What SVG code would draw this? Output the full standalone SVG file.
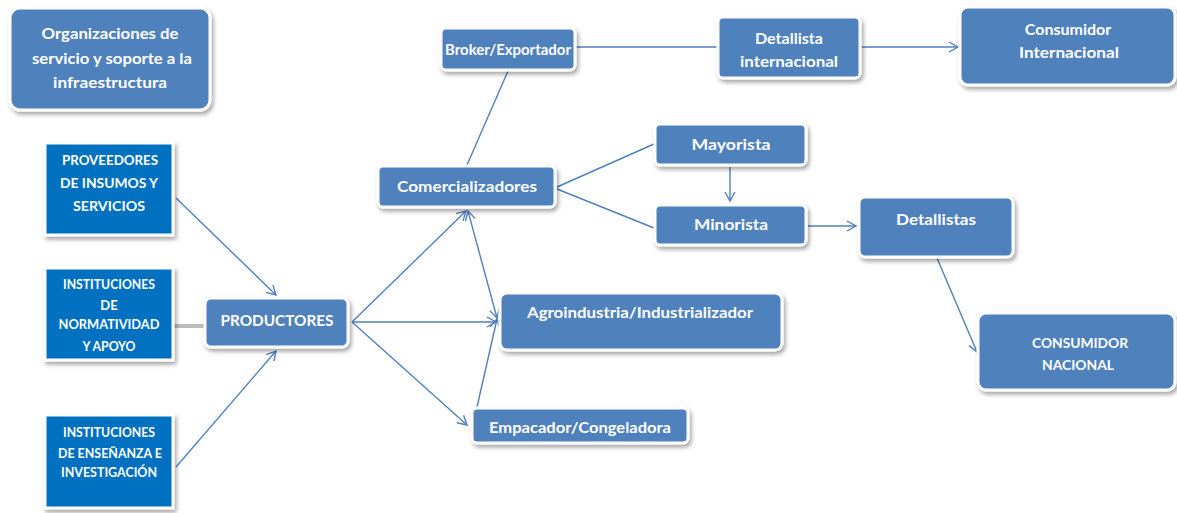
<svg xmlns="http://www.w3.org/2000/svg" width="1177" height="513" viewBox="0 0 1177 513">
<style>
  .box { fill: #4F81BD; stroke: #FFFFFF; stroke-width: 3; filter: url(#shadow); }
  .sq { fill: #0070C0; stroke: #FFFFFF; stroke-width: 3; filter: url(#shadow); }
  .t { font-family: Lato, "Liberation Sans", sans-serif; font-weight: bold; fill: #FFFFFF; text-anchor: middle; font-size: 16px; }
  .s { font-size: 13px; }
  .c { stroke: #4F81BD; stroke-width: 1.4; fill: none; }
  .a { marker-end: url(#arr); }
  .b { marker-start: url(#arrs); }
</style>
<defs>
  <filter id="shadow" x="-10%" y="-10%" width="125%" height="135%">
    <feDropShadow dx="2" dy="3" stdDeviation="2" flood-color="#000000" flood-opacity="0.35"/>
  </filter>
  <marker id="arr" markerUnits="userSpaceOnUse" markerWidth="14" markerHeight="14" refX="10" refY="6" orient="auto">
    <path d="M1,1 L10,6 L1,11" fill="none" stroke="#4F81BD" stroke-width="1.4"/>
  </marker>
  <marker id="arrs" markerUnits="userSpaceOnUse" markerWidth="14" markerHeight="14" refX="2" refY="6" orient="auto">
    <path d="M11,1 L2,6 L11,11" fill="none" stroke="#4F81BD" stroke-width="1.4"/>
  </marker>
</defs>
<rect width="1177" height="513" fill="#FFFFFF"/>

<g id="connectors">
  <line x1="174" y1="326" x2="205" y2="326" stroke="#BDBDBD" stroke-width="4"/>
  <line class="c a" x1="176" y1="198" x2="276" y2="295"/>
  <line class="c a" x1="176" y1="467" x2="276" y2="351"/>
  <line class="c a" x1="352" y1="322" x2="466" y2="211"/>
  <line class="c a" x1="352" y1="322" x2="496" y2="322"/>
  <line class="c a" x1="352" y1="322" x2="467" y2="425"/>
  <line class="c a b" x1="468" y1="211" x2="497" y2="318"/>
  <line class="c a" x1="477" y1="407" x2="497" y2="319"/>
  <line class="c" x1="508" y1="71" x2="467" y2="165"/>
  <line class="c" x1="576" y1="47" x2="717" y2="47"/>
  <line class="c a" x1="862" y1="47" x2="958" y2="47"/>
  <line class="c" x1="557" y1="187" x2="654" y2="144"/>
  <line class="c" x1="557" y1="189" x2="654" y2="228"/>
  <line class="c a" x1="730" y1="167" x2="730" y2="201"/>
  <line class="c a" x1="808" y1="226" x2="856" y2="226"/>
  <line class="c a" x1="937" y1="258" x2="977" y2="352"/>
</g>

<g id="organizaciones">
  <rect class="box" x="10" y="8" width="200" height="102" rx="10"/>
  <text class="t" x="110" y="39" textLength="137" lengthAdjust="spacingAndGlyphs">Organizaciones de</text>
  <text class="t" x="112" y="64" textLength="160" lengthAdjust="spacingAndGlyphs">servicio y soporte a la</text>
  <text class="t" x="110" y="88" textLength="114" lengthAdjust="spacingAndGlyphs">infraestructura</text>
</g>

<g id="broker">
  <rect class="box" x="441" y="28" width="134" height="42" rx="5"/>
  <text class="t" x="508" y="55" textLength="126" lengthAdjust="spacingAndGlyphs">Broker/Exportador</text>
</g>

<g id="detallista-internacional">
  <rect class="box" x="718" y="17" width="142" height="61" rx="5"/>
  <text class="t" x="789" y="44" textLength="68" lengthAdjust="spacingAndGlyphs">Detallista</text>
  <text class="t" x="789" y="67" textLength="98" lengthAdjust="spacingAndGlyphs">internacional</text>
</g>

<g id="consumidor-internacional">
  <rect class="box" x="960" y="7" width="215" height="78" rx="8"/>
  <text class="t" x="1068" y="35">Consumidor</text>
  <text class="t" x="1069" y="58" textLength="100" lengthAdjust="spacingAndGlyphs">Internacional</text>
</g>

<g id="proveedores">
  <rect class="sq" x="45" y="143" width="128" height="92"/>
  <text class="t s" x="110" y="165" textLength="96" lengthAdjust="spacingAndGlyphs">PROVEEDORES</text>
  <text class="t s" x="109" y="188" textLength="98" lengthAdjust="spacingAndGlyphs">DE INSUMOS Y</text>
  <text class="t s" x="109" y="211" textLength="72" lengthAdjust="spacingAndGlyphs">SERVICIOS</text>
</g>

<g id="normatividad">
  <rect class="sq" x="45" y="268" width="128" height="92"/>
  <text class="t s" x="109" y="289" textLength="92" lengthAdjust="spacingAndGlyphs">INSTITUCIONES</text>
  <text class="t s" x="109" y="310">DE</text>
  <text class="t s" x="109" y="329" textLength="101" lengthAdjust="spacingAndGlyphs">NORMATIVIDAD</text>
  <text class="t s" x="109" y="351" textLength="53" lengthAdjust="spacingAndGlyphs">Y APOYO</text>
</g>

<g id="ensenanza">
  <rect class="sq" x="45" y="415" width="128" height="93"/>
  <text class="t s" x="109" y="437" textLength="92" lengthAdjust="spacingAndGlyphs">INSTITUCIONES</text>
  <text class="t s" x="110" y="458" textLength="104" lengthAdjust="spacingAndGlyphs">DE ENSEÑANZA E</text>
  <text class="t s" x="109" y="477" textLength="96" lengthAdjust="spacingAndGlyphs">INVESTIGACIÓN</text>
</g>

<g id="productores">
  <rect class="box" x="205" y="298" width="143" height="49" rx="6"/>
  <text class="t" x="277" y="326" textLength="113" lengthAdjust="spacingAndGlyphs">PRODUCTORES</text>
</g>

<g id="comercializadores">
  <rect class="box" x="378" y="166" width="177" height="41" rx="5"/>
  <text class="t" x="467" y="192" textLength="140" lengthAdjust="spacingAndGlyphs">Comercializadores</text>
</g>

<g id="mayorista">
  <rect class="box" x="655" y="124" width="151" height="41" rx="5"/>
  <text class="t" x="731" y="150" textLength="79" lengthAdjust="spacingAndGlyphs">Mayorista</text>
</g>

<g id="minorista">
  <rect class="box" x="655" y="205" width="151" height="40" rx="5"/>
  <text class="t" x="731" y="230" textLength="74" lengthAdjust="spacingAndGlyphs">Minorista</text>
</g>

<g id="detallistas">
  <rect class="box" x="859" y="197" width="154" height="60" rx="6"/>
  <text class="t" x="936" y="225" textLength="80" lengthAdjust="spacingAndGlyphs">Detallistas</text>
</g>

<g id="consumidor-nacional">
  <rect class="box" x="978" y="313" width="197" height="77" rx="8"/>
  <text class="t s" x="1080" y="348" textLength="96" lengthAdjust="spacingAndGlyphs">CONSUMIDOR</text>
  <text class="t s" x="1078" y="370" textLength="72" lengthAdjust="spacingAndGlyphs">NACIONAL</text>
</g>

<g id="agroindustria">
  <rect class="box" x="500" y="293" width="282" height="57" rx="7"/>
  <text class="t" x="640" y="318" textLength="226" lengthAdjust="spacingAndGlyphs">Agroindustria/Industrializador</text>
</g>

<g id="empacador">
  <rect class="box" x="472" y="408" width="216" height="35" rx="5"/>
  <text class="t" x="580" y="433" textLength="182" lengthAdjust="spacingAndGlyphs">Empacador/Congeladora</text>
</g>
</svg>
